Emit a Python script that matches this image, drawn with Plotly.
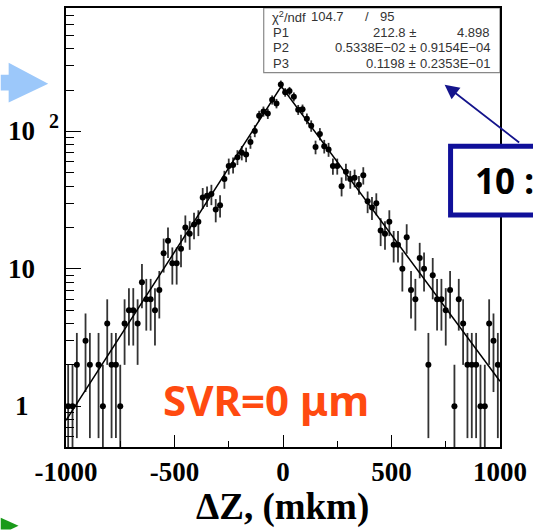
import numpy as np
import plotly.graph_objects as go

# ---------------- data ----------------
dz_centers = list(range(-990, 1000, 20))          # 100 bins of 20 mkm
counts = [1, 1, 2, None, 3, 2, None, 2, 1, 4,
          2, 2, 1, 4, 5, 5, 4, 8, 6, 6,
          5, 7, 13, 16, 11, 11, 14, 20, 18, 21,
          22, 33, 34, 35, 27, 29, 45, 56, 57, 65,
          70, 68, 84, 101, 130, 140, 135, 170, 160, 220,
          193, 197, 179, 144, 145, 124, 110, 77, 96, 78,
          74, 56, 56, 40, 51, 45, 46, 41, 48, 31,
          28, 30, 19, 18, 22, 15, 15, 10, 17, 7,
          6, 12, 10, 2, 9, 6, 6, 5, 7, 1,
          6, 4, 2, 2, 2, 1, 1, 4, 3, 2]

fit_dz = [-1000, -8, 1000]
fit_val = [0.79, 213.0, 1.52]

x_tick_vals = [-1000, -500, 0, 500, 1000]
x_tick_text = ["-1000", "-500", "0", "500", "1000"]
y_tick_vals = [1, 10, 100]
y_tick_main = ["1", "10", "10"]
y_tick_sup = ["", "", "2"]

chi2_val = "104.7"
ndf_val = "95"
p_names = ["P1", "P2", "P3"]
p_vals = ["212.8", "0.5338E\u221202", "0.1198"]
p_errs = ["4.898", "0.9154E\u221204", "0.2353E\u221201"]

x_title = "\u0394Z, (mkm)"
svr_text = "SVR=0 \u03bcm"
box_text = "10 :"

# ---------------- geometry helpers ----------------
W, H = 533, 530
L, R, T, B = 66, 505, 6, 447


def px(x):
    return (x - L) / (R - L)


def py(y):
    return (B - y) / (B - T)


def path(points):
    s = "M " + " L ".join(f"{px(a):.5f},{py(b):.5f}" for a, b in points)
    return s + " Z"


xs = [c for c, n in zip(dz_centers, counts) if n]
ns = np.array([n for n in counts if n], dtype=float)
err_hi = np.sqrt(ns)
err_lo = np.minimum(np.sqrt(ns), ns * 0.999)

fig = go.Figure()
fig.add_trace(go.Scatter(
    x=xs, y=ns, mode="markers",
    marker=dict(color="black", size=6),
    error_y=dict(type="data", symmetric=False, array=err_hi, arrayminus=err_lo,
                 color="#333333", thickness=1.8, width=0),
))
fig.add_trace(go.Scatter(x=fit_dz, y=fit_val, mode="lines",
                         line=dict(color="black", width=1.5)))

serif = "Liberation Serif"
ann = []
# y tick labels
for v, m, s in zip(y_tick_vals, y_tick_main, y_tick_sup):
    shift = -35 if len(m) == 1 else -29
    ann.append(dict(x=0, xref="paper", y=np.log10(v), yref="y", text=f"<b>{m}</b>",
                    showarrow=False, xanchor="right", yanchor="middle", xshift=shift,
                    font=dict(family=serif, size=27, color="black")))
    if s:
        ann.append(dict(x=0, xref="paper", y=np.log10(v), yref="y", text=f"<b>{s}</b>",
                        showarrow=False, xanchor="left", yanchor="middle", xshift=-19, yshift=10,
                        font=dict(family=serif, size=20, color="black")))
# x title
ann.append(dict(x=px(285), y=py(507.6), xref="paper", yref="paper", text=f"<b>{x_title}</b>",
                showarrow=False, xanchor="center", yanchor="middle",
                font=dict(family=serif, size=37, color="black")))
# SVR label
ann.append(dict(x=px(268), y=py(399), xref="paper", yref="paper", text=f"<b>{svr_text}</b>",
                showarrow=False, xanchor="center", yanchor="middle",
                font=dict(family="Noto Sans", size=42, color="#ff4a10")))
# stats box text
sf = dict(family="Liberation Sans", size=13, color="#333333")
rows_y = [15, 31, 46, 62]
ann.append(dict(x=px(272), y=py(rows_y[0]), xref="paper", yref="paper", text="\u03c7<sup>2</sup>/ndf",
                showarrow=False, xanchor="left", yanchor="middle", font=sf))
ann.append(dict(x=px(312), y=py(rows_y[0]), xref="paper", yref="paper", text=chi2_val,
                showarrow=False, xanchor="left", yanchor="middle", font=sf))
ann.append(dict(x=px(370), y=py(rows_y[0]), xref="paper", yref="paper", text="/",
                showarrow=False, xanchor="center", yanchor="middle", font=sf))
ann.append(dict(x=px(400), y=py(rows_y[0]), xref="paper", yref="paper", text=ndf_val,
                showarrow=False, xanchor="right", yanchor="middle", font=sf))
for i, (nm, v, e) in enumerate(zip(p_names, p_vals, p_errs)):
    yy = py(rows_y[i + 1])
    ann.append(dict(x=px(273), y=yy, xref="paper", yref="paper", text=nm,
                    showarrow=False, xanchor="left", yanchor="middle", font=sf))
    ann.append(dict(x=px(422), y=yy, xref="paper", yref="paper", text=f"{v} \u00b1",
                    showarrow=False, xanchor="right", yanchor="middle", font=sf))
    ann.append(dict(x=px(497), y=yy, xref="paper", yref="paper", text=e,
                    showarrow=False, xanchor="right", yanchor="middle", font=sf))
# arrow to stats box
ann.append(dict(x=px(449), y=py(83), xref="paper", yref="paper", text="",
                showarrow=True, ax=76, ay=59, axref="pixel", ayref="pixel",
                arrowhead=2, arrowsize=1.6, arrowwidth=1.8, arrowcolor="#14148c"))
# text in blue box
ann.append(dict(x=px(478), y=py(179), xref="paper", yref="paper", text=f"<b>{box_text}</b>",
                showarrow=False, xanchor="left", yanchor="middle",
                font=dict(family="Noto Sans", size=35, color="black")))

shapes = [
    dict(type="rect", xref="paper", yref="paper", x0=px(266), x1=1, y0=py(71), y1=1,
         line=dict(color="#888888", width=1.2), fillcolor="white", layer="below"),
    dict(type="rect", xref="paper", yref="paper", x0=px(455), x1=px(560), y0=py(214), y1=py(145),
         line=dict(color="#10109a", width=5), fillcolor="white", layer="above"),
    dict(type="path", xref="paper", yref="paper",
         path=path([(0, 73), (8, 73), (8, 61), (48, 82), (8, 101), (8, 89), (0, 89)]),
         line=dict(width=0), fillcolor="#9cc8fa", layer="above"),
    dict(type="path", xref="paper", yref="paper",
         path=path([(0, 518), (18, 526), (10, 530), (0, 530)]),
         line=dict(width=0), fillcolor="#1a9a1a", layer="above"),
]

fig.update_layout(
    width=W, height=H,
    margin=dict(l=L, r=W - R, t=T, b=H - B, pad=0),
    paper_bgcolor="white", plot_bgcolor="white",
    showlegend=False,
    annotations=ann, shapes=shapes,
    xaxis=dict(range=[-1000, 1000], tickmode="array", tickvals=x_tick_vals, ticktext=x_tick_text,
               ticks="inside", ticklen=12, tickwidth=1.2, tickcolor="black",
               showline=True, mirror=True, linecolor="black", linewidth=1.5,
               showgrid=False, zeroline=False,
               tickfont=dict(family=serif, size=27, color="black", weight="bold"),
               minor=dict(dtick=250, ticks="inside", ticklen=6, tickwidth=1.2,
                          tickcolor="black", showgrid=False)),
    yaxis=dict(type="log", range=[-0.297, 2.899], tickmode="array", tickvals=y_tick_vals,
               ticks="inside", ticklen=15, tickwidth=1.2, tickcolor="black",
               showticklabels=False,
               showline=True, mirror=True, linecolor="black", linewidth=1.5,
               showgrid=False, zeroline=False,
               minor=dict(dtick="D1", ticks="inside", ticklen=8, tickwidth=1.2,
                          tickcolor="black", showgrid=False)),
)

fig.write_html("out.html", config={"displayModeBar": False},
               post_script="document.body.style.margin='0';document.body.style.overflow='hidden';")
